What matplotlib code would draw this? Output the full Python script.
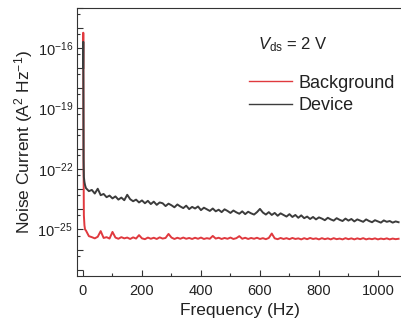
import matplotlib
matplotlib.use("Agg")
import matplotlib.pyplot as plt
import matplotlib.ticker as mticker
import numpy as np

plt.rcParams["font.family"] = ["Liberation Sans", "DejaVu Sans"]
plt.rcParams["mathtext.fontset"] = "custom"
plt.rcParams["mathtext.rm"] = "Liberation Sans"
plt.rcParams["mathtext.it"] = "Liberation Sans:italic"

# ============= data (log10 of noise current) ===========#
freq = [0.5, 1, 2, 3, 5, 7] + list(range(10, 1080, 10))

device_exp = (
    [-17.0, -15.7, -21.5, -22.4, -22.65, -22.8]
    + [-22.95, -23.10, -23.04, -23.22, -22.98, -23.30, -23.24, -23.40, -23.32, -23.46]
    + [-23.36, -23.52, -23.42, -23.55, -23.28, -23.50, -23.60, -23.52, -23.66, -23.56]
    + [-23.70, -23.58, -23.74, -23.62, -23.78, -23.66, -23.70, -23.84, -23.72, -23.80]
    + [-23.90, -23.76, -23.86, -23.94, -23.82, -23.99, -23.88, -23.96, -23.86, -24.04]
    + [-23.92, -24.00, -24.08, -23.96, -24.10, -24.02, -24.14, -24.00, -24.08, -24.18]
    + [-24.06, -24.15, -24.22, -24.10, -24.24, -24.12, -24.20, -24.26, -24.14, -23.98]
    + [-24.16, -24.26, -24.14, -24.28, -24.18, -24.32, -24.20, -24.28, -24.36, -24.24]
    + [-24.38, -24.28, -24.42, -24.30, -24.44, -24.36, -24.48, -24.38, -24.50, -24.40]
    + [-24.46, -24.54, -24.42, -24.50, -24.56, -24.44, -24.52, -24.58, -24.46, -24.56]
    + [-24.48, -24.60, -24.50, -24.56, -24.62, -24.50, -24.58, -24.64, -24.54, -24.60]
    + [-24.66, -24.55, -24.62, -24.58, -24.66, -24.60, -24.64]
)

background_exp = (
    [-17.0, -15.25, -22.0, -24.3, -24.8, -25.0]
    + [-25.05, -25.33, -25.38, -25.44, -25.36, -25.08, -25.42, -25.38, -25.45, -25.12]
    + [-25.40, -25.46, -25.38, -25.44, -25.40, -25.47, -25.39, -25.45, -25.28, -25.44]
    + [-25.48, -25.40, -25.46, -25.41, -25.47, -25.39, -25.45, -25.42, -25.22, -25.40]
    + [-25.47, -25.41, -25.46, -25.40, -25.46, -25.42, -25.47, -25.41, -25.46, -25.40]
    + [-25.47, -25.43, -25.46, -25.32, -25.45, -25.41, -25.47, -25.42, -25.46, -25.40]
    + [-25.47, -25.43, -25.33, -25.46, -25.41, -25.47, -25.42, -25.46, -25.41, -25.47]
    + [-25.43, -25.48, -25.42, -25.20, -25.44, -25.48, -25.42, -25.47, -25.43, -25.48]
    + [-25.42, -25.47, -25.44, -25.49, -25.43, -25.48, -25.42, -25.47, -25.44, -25.49]
    + [-25.43, -25.48, -25.44, -25.49, -25.43, -25.48, -25.45, -25.49, -25.43, -25.48]
    + [-25.44, -25.49, -25.44, -25.48, -25.43, -25.49, -25.45, -25.48, -25.44, -25.49]
    + [-25.45, -25.48, -25.44, -25.49, -25.45, -25.48, -25.46]
)

labels = ["Background", "Device"]
colors = ["#e0393e", "#3c3c3c"]


def main():
    fig = plt.figure(figsize=(4.01, 3.32), dpi=100)
    ax = fig.add_axes([77 / 401, 56.5 / 332, 326 / 401, 268 / 332])

    ax.plot(freq, 10.0 ** np.array(background_exp), color=colors[0], lw=1.4,
            label=labels[0])
    ax.plot(freq, 10.0 ** np.array(device_exp), color=colors[1], lw=1.4,
            label=labels[1])

    ax.set_yscale("log")
    ax.set_xlim(-20.3, 1085)
    ax.set_ylim(10 ** -27.28, 1e-14)

    ax.xaxis.set_major_locator(mticker.MultipleLocator(200))
    ax.xaxis.set_minor_locator(mticker.MultipleLocator(100))
    ax.yaxis.set_major_locator(mticker.FixedLocator([10.0 ** k for k in range(-27, -13)]))
    ax.yaxis.set_minor_locator(mticker.FixedLocator([5 * 10.0 ** k for k in range(-28, -14)]))

    def ylab(v, pos):
        k = int(round(np.log10(v)))
        return r"$10^{%d}$" % k if k in (-25, -22, -19, -16) else ""

    ax.yaxis.set_major_formatter(mticker.FuncFormatter(ylab))
    ax.yaxis.set_minor_formatter(mticker.NullFormatter())

    ax.tick_params(which="both", direction="in", top=False, right=False,
                   labelsize=10.5, colors="#333333", labelcolor="#222222")
    ax.tick_params(which="major", length=4, width=0.8)
    ax.tick_params(which="minor", length=2.5, width=0.8)
    ax.tick_params(axis="x", pad=6)
    ax.tick_params(axis="y", pad=3)

    for s in ["left", "bottom", "top"]:
        ax.spines[s].set_color("#333333")
        ax.spines[s].set_linewidth(0.8)
    ax.spines["right"].set_visible(False)

    ax.set_xlabel("Frequency (Hz)", fontsize=12.5, labelpad=4, color="#222222")
    ax.set_ylabel(r"Noise Current (A$^{2}$ Hz$^{-1}$)", fontsize=12.5,
                  labelpad=2, color="#222222")

    ax.text(593, 10 ** -15.85, r"$V_{\rm ds}$ = 2 V", fontsize=12,
            va="center", ha="left", color="#222222")
    leg = ax.legend(loc="upper left", bbox_to_anchor=(0.528, 0.75), frameon=False,
                    fontsize=13, handlelength=2.4, handletextpad=0.35,
                    labelspacing=0.32, borderaxespad=0, borderpad=0)
    for line in leg.get_lines():
        line.set_linewidth(1.0)
    for t in leg.get_texts():
        t.set_color("#222222")

    fig.savefig("out.png", dpi=100)


if __name__ == "__main__":
    main()
